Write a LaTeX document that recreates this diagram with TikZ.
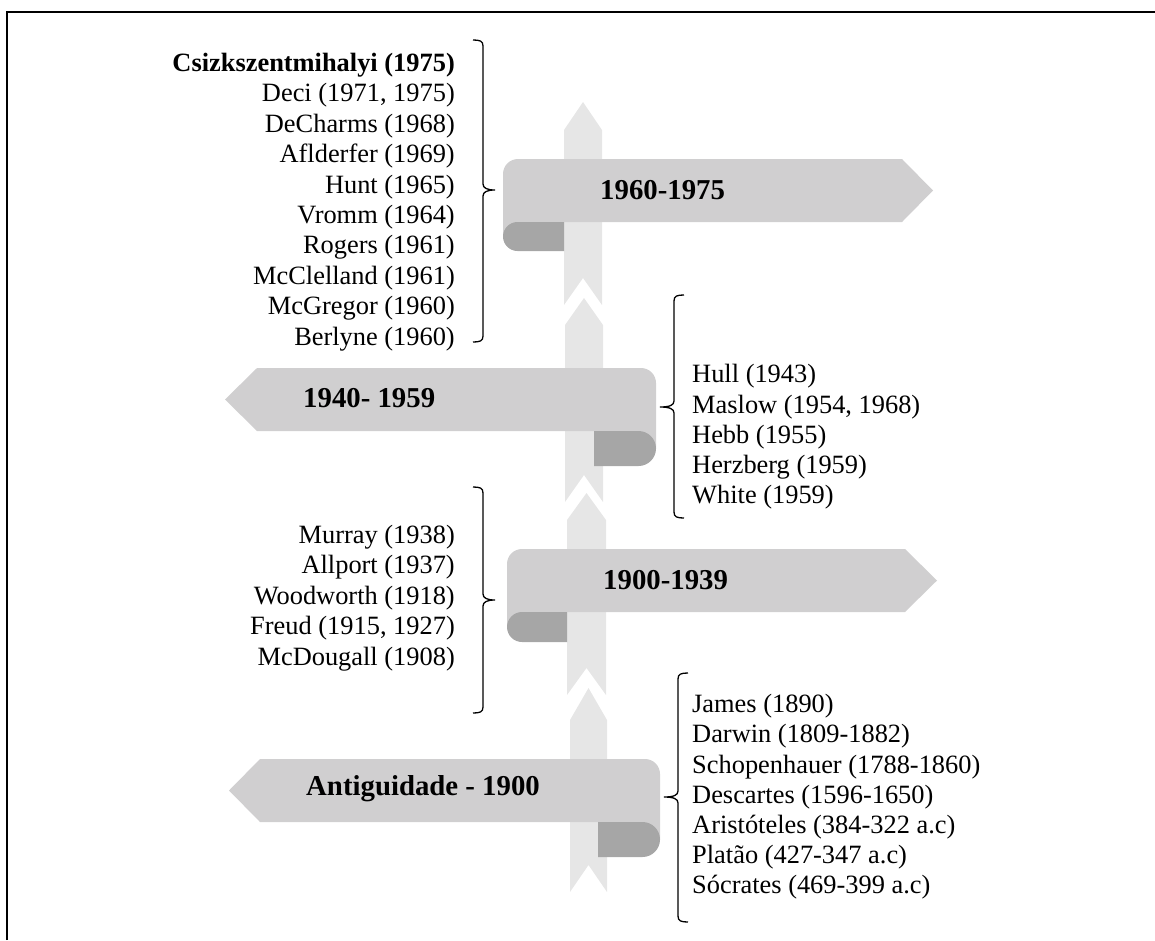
\documentclass[tikz,border=0pt]{standalone}
\usepackage{fontspec}
\setmainfont{Liberation Serif}

\definecolor{ribbon}{HTML}{D0CFD0}
\definecolor{ribbonfold}{HTML}{A6A6A6}
\definecolor{spine}{HTML}{E6E6E6}

% one piece of the vertical spine: left x, right x, tip y, shoulder y, bottom y, notch y
\newcommand\spineseg[6]{%
  \fill[spine] (#1,#4) -- ({(#1+#2)/2},#3) -- (#2,#4) -- (#2,#5)
    -- ({(#1+#2)/2},#6) -- (#1,#5) -- cycle;}

% ribbon pointing right: left x, top y, bottom y, fold bottom y, flat end x, tip x, fold end x
\newcommand\ribbonright[7]{%
  \pgfmathsetmacro\ribH{(#4-#3)/2}%
  \pgfmathsetmacro\ribC{(#3+#4)/2}%
  \pgfmathsetmacro\ribM{(#2+#3)/2}%
  \fill[ribbon] (#1,\ribC) -- (#1,#2+15) .. controls (#1,#2+6.7) and (#1+6.7,#2) .. (#1+15,#2)
    -- (#5,#2) -- (#6,\ribM) -- (#5,#3) -- (#1+\ribH,#3) -- (#1+\ribH,\ribC) -- cycle;
  \fill[ribbonfold] (#7,#3) -- (#1+\ribH,#3)
    .. controls (#1+\ribH*0.448,#3) and (#1,\ribC-\ribH*0.552) .. (#1,\ribC)
    .. controls (#1,\ribC+\ribH*0.552) and (#1+\ribH*0.448,#4) .. (#1+\ribH,#4)
    -- (#7,#4) -- cycle;}

% ribbon pointing left: right x, top y, bottom y, fold bottom y, flat end x, tip x, fold end x
\newcommand\ribbonleft[7]{%
  \pgfmathsetmacro\ribH{(#4-#3)/2}%
  \pgfmathsetmacro\ribC{(#3+#4)/2}%
  \pgfmathsetmacro\ribM{(#2+#3)/2}%
  \fill[ribbon] (#1,\ribC) -- (#1,#2+15) .. controls (#1,#2+6.7) and (#1-6.7,#2) .. (#1-15,#2)
    -- (#5,#2) -- (#6,\ribM) -- (#5,#3) -- (#1-\ribH,#3) -- (#1-\ribH,\ribC) -- cycle;
  \fill[ribbonfold] (#7,#3) -- (#1-\ribH,#3)
    .. controls (#1-\ribH*0.448,#3) and (#1,\ribC-\ribH*0.552) .. (#1,\ribC)
    .. controls (#1,\ribC+\ribH*0.552) and (#1-\ribH*0.448,#4) .. (#1-\ribH,#4)
    -- (#7,#4) -- cycle;}

% curly bracket opening to the right of a list on its left: x, top y, bottom y, tick y
\newcommand\bracketright[4]{%
  \draw[bracket] (#1-10,#2) .. controls (#1-3,#2) and (#1,#2+1) .. (#1,#2+6)
    -- (#1,#4-6) .. controls (#1,#4-2) and (#1+4,#4) .. (#1+12,#4)
    .. controls (#1+4,#4) and (#1,#4+2) .. (#1,#4+6)
    -- (#1,#3-6) .. controls (#1,#3-1) and (#1-3,#3) .. (#1-10,#3);}
% curly bracket in front of a list on its right
\newcommand\bracketleft[4]{%
  \draw[bracket] (#1+10,#2) .. controls (#1+3,#2) and (#1,#2+1) .. (#1,#2+6)
    -- (#1,#4-6) .. controls (#1,#4-2) and (#1-4,#4) .. (#1-14,#4)
    .. controls (#1-4,#4) and (#1,#4+2) .. (#1,#4+6)
    -- (#1,#3-6) .. controls (#1,#3-1) and (#1+3,#3) .. (#1+10,#3);}

\begin{document}
\begin{tikzpicture}[x=1pt,y=-1pt,
  era/.style={anchor=west, inner sep=0pt, font=\fontsize{28.8}{34}\selectfont\bfseries},
  namesleft/.style={anchor=east, align=right, inner sep=0pt, font=\fontsize{26.4}{30.4}\selectfont},
  namesright/.style={anchor=west, align=left, inner sep=0pt, font=\fontsize{26.4}{30.2}\selectfont},
  bracket/.style={draw=black, line width=1.3pt}]
\useasboundingbox (0,0) rectangle (1155,940);

% frame
\draw[line width=2pt] (7,940) -- (7,12) -- (1155,12);

% spine
\spineseg{564}{602}{102}{130}{305}{278}
\spineseg{565}{603}{298}{325}{502}{475}
\spineseg{567}{606}{493}{520}{695}{668}
\spineseg{570}{607}{688}{720}{892}{865}

% ribbons
\ribbonright{503}{159}{222}{251}{902}{933}{564}
\ribbonleft{656}{368}{431}{466}{257}{225}{594}
\ribbonright{507}{549}{612}{642}{905}{937}{567}
\ribbonleft{660}{759}{822}{857}{260}{229}{598}

\node[era] (p4) at (600,190) {1960-1975};
\node[era] (p3) at (303,398) {1940- 1959};
\node[era] (p2) at (603,580) {1900-1939};
\node[era] (p1) at (306,789) {Antiguidade - 1900};

% authors
\node[namesleft] (a4) at (455,202) {\textbf{Csizkszentmihalyi (1975)}\\Deci (1971, 1975)\\DeCharms (1968)\\Aflderfer (1969)\\Hunt (1965)\\Vromm (1964)\\Rogers (1961)\\McClelland (1961)\\McGregor (1960)\\Berlyne (1960)};
\node[namesright] (a3) at (692,437) {Hull (1943)\\Maslow (1954, 1968)\\Hebb (1955)\\Herzberg (1959)\\White (1959)};
\node[namesleft] (a2) at (455,598) {Murray (1938)\\Allport (1937)\\Woodworth (1918)\\Freud (1915, 1927)\\McDougall (1908)};
\node[namesright] (a1) at (692,797) {James (1890)\\Darwin (1809-1882)\\Schopenhauer (1788-1860)\\Descartes (1596-1650)\\Aristóteles (384-322 a.c)\\Platão (427-347 a.c)\\Sócrates (469-399 a.c)};

% brackets
\bracketright{483}{40}{342}{190}
\bracketleft{674}{295}{518}{407}
\bracketright{483}{487}{713}{600}
\bracketleft{678}{673}{922}{797}
\end{tikzpicture}
\end{document}
